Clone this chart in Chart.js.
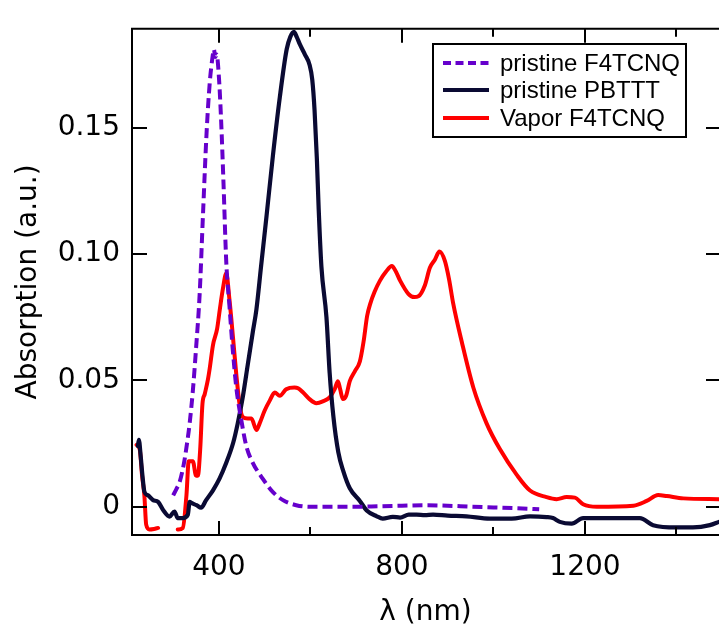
<!DOCTYPE html>
<html>
<head>
<meta charset="utf-8">
<script src="https://cdn.jsdelivr.net/npm/chart.js@4.4.1/dist/chart.umd.min.js"></script>
<style>
  body { margin: 0; background: #fff; }
  #wrap { width: 719px; height: 635px; }
</style>
</head>
<body>
<div id="wrap"><canvas id="absChart" width="719" height="635"></canvas></div>
<script>
const f4tcnqWl = [300, 307, 314, 320, 325, 331, 336, 343, 350, 358, 365, 373, 380, 386, 389, 392, 395, 400, 405, 410,
  416, 423, 430, 438, 449, 460, 474, 496, 518, 540, 569, 598, 650, 700, 750, 800, 850, 900, 950, 1000, 1050, 1100];
const f4tcnqAbs = [0.0045, 0.007, 0.0097, 0.014, 0.0187, 0.026, 0.033, 0.0459, 0.0627, 0.0846, 0.115, 0.148, 0.168, 0.178, 0.181, 0.178, 0.179, 0.17, 0.152, 0.128,
  0.097, 0.0795, 0.0627, 0.0472, 0.0342, 0.0239, 0.0174, 0.011, 0.0058, 0.0026, 0.0006, 0, 0, 0, 0.0002, 0.0004, 0.0006, 0.0004, 0, -0.0003, -0.0006, -0.001];

const pbtttWl = [223, 225, 229, 233, 237, 245, 256, 267, 278, 292, 303, 310, 321, 332, 336, 340, 351, 361, 372, 387,
  401, 416, 431, 441, 452, 463, 474, 482, 492, 504, 518, 533, 548, 556, 564, 570, 577, 588, 598, 604,
  609, 614, 618, 624, 635, 642, 650, 661, 672, 686, 708, 723, 745, 758, 780, 796, 815, 832, 850, 868,
  900, 941, 992, 1040, 1080, 1116, 1130, 1145, 1171, 1196, 1260, 1320, 1349, 1400, 1436, 1473, 1493];
const pbtttAbs = [0.024, 0.0265, 0.02, 0.012, 0.006, 0.0045, 0.0026, 0.0019, -0.0013, -0.0039, -0.0019, -0.0045, -0.0045, -0.0032, 0.0019, 0.0015, 0.0006, -0.0004, 0.0026, 0.0065,
  0.011, 0.0174, 0.0252, 0.0329, 0.0433, 0.0562, 0.0691, 0.0782, 0.095, 0.115, 0.139, 0.162, 0.181, 0.186, 0.188, 0.186, 0.183, 0.179, 0.175, 0.169,
  0.157, 0.138, 0.118, 0.095, 0.075, 0.053, 0.036, 0.0215, 0.014, 0.0073, 0.0023, -0.0015, -0.0038, -0.0047, -0.004, -0.0043, -0.0031, -0.0031, -0.0033, -0.0031,
  -0.0035, -0.0038, -0.0047, -0.0047, -0.0038, -0.0041, -0.0045, -0.006, -0.0067, -0.0045, -0.0045, -0.0045, -0.0073, -0.0082, -0.0082, -0.0073, -0.006];

// null = hueco en la curva de vapor
const vaporWl = [220, 227, 232, 237, 241, 248, 258, 267, 290, 310, 321, 329, 334, 343, 350, 354, 359, 364, 369, 376,
  380, 387, 396, 402, 409, 416, 423, 431, 438, 445, 452, 463, 471, 482, 489, 500, 511, 522, 533, 547,
  565, 573, 584, 598, 613, 627, 642, 653, 660, 665, 671, 678, 686, 697, 708, 716, 724, 731, 740, 752,
  765, 778, 787, 796, 814, 827, 836, 850, 861, 872, 882, 894, 903, 912, 931, 956, 985, 1014, 1051, 1080,
  1116, 1138, 1160, 1178, 1196, 1226, 1306, 1335, 1360, 1379, 1415, 1493];
const vaporAbs = [0.0245, 0.0226, 0.0123, 0.0045, -0.0071, -0.009, -0.0088, -0.0084, null, -0.009, -0.0084, 0.0045, 0.018, 0.018, 0.0123, 0.0123, 0.0226, 0.0407, 0.0446, 0.0504,
  0.0549, 0.064, 0.0704, 0.0782, 0.0866, 0.0924, 0.082, 0.0665, 0.0523, 0.0407, 0.0355, 0.0349, 0.0349, 0.0304, 0.033, 0.0381, 0.042, 0.0452, 0.0439, 0.0465,
  0.0472, 0.0469, 0.0452, 0.0426, 0.041, 0.0417, 0.0433, 0.0465, 0.0497, 0.0465, 0.0426, 0.0439, 0.0497, 0.0536, 0.0575, 0.0652, 0.0756, 0.0805, 0.085, 0.0895,
  0.093, 0.0953, 0.093, 0.0895, 0.0843, 0.083, 0.0833, 0.0876, 0.0946, 0.0978, 0.101, 0.0972, 0.09, 0.0805, 0.0651, 0.0472, 0.033, 0.0228, 0.0126, 0.0064,
  0.0038, 0.003, 0.0038, 0.0036, 0.001, 0, 0.0004, 0.0023, 0.0046, 0.0042, 0.0033, 0.003];

const seriesLabels = ['pristine F4TCNQ', 'pristine PBTTT', 'Vapor F4TCNQ'];
const xTickValues = [400, 600, 800, 1000, 1200, 1400];
const xLabelTicks = [400, 800, 1200];
const yTickValues = [0, 0.05, 0.10, 0.15];

const tickFont = { family: 'DejaVu Sans', size: 28 };

function toPoints(xs, ys) {
  return xs.map((x, i) => ({ x: x, y: ys[i] }));
}

// Marco, marcas hacia dentro y leyenda con recuadro
const framePlugin = {
  id: 'frame',
  afterDatasetsDraw(chart) {
    const ctx = chart.ctx;
    const a = chart.chartArea;
    const xs = chart.scales.x;
    const ys = chart.scales.y;
    ctx.save();
    ctx.strokeStyle = '#000';
    ctx.lineWidth = 2;
    ctx.beginPath();
    ctx.moveTo(a.right + 2, a.top);
    ctx.lineTo(a.left, a.top);
    ctx.lineTo(a.left, a.bottom);
    ctx.lineTo(a.right + 2, a.bottom);
    ctx.stroke();

    ctx.beginPath();
    xs.ticks.forEach(t => {
      const px = Math.round(xs.getPixelForValue(t.value));
      const len = xLabelTicks.includes(t.value) ? 14 : 8;
      ctx.moveTo(px, a.bottom);
      ctx.lineTo(px, a.bottom - len);
      ctx.moveTo(px, a.top);
      ctx.lineTo(px, a.top + len);
    });
    ys.ticks.forEach(t => {
      const py = Math.round(ys.getPixelForValue(t.value));
      ctx.moveTo(a.left, py);
      ctx.lineTo(a.left + 15, py);
      ctx.moveTo(a.right + 1, py);
      ctx.lineTo(a.right - 13, py);
    });
    ctx.stroke();

    // leyenda
    const box = { left: 433, top: 44, right: 686, bottom: 137 };
    const rows = [63, 90, 118];
    ctx.fillStyle = '#fff';
    ctx.fillRect(box.left, box.top, box.right - box.left, box.bottom - box.top);
    ctx.strokeRect(box.left, box.top, box.right - box.left, box.bottom - box.top);
    ctx.font = '24px "Liberation Sans", Arial, sans-serif';
    ctx.textBaseline = 'middle';
    chart.data.datasets.forEach((ds, i) => {
      ctx.strokeStyle = ds.borderColor;
      ctx.lineWidth = 4;
      ctx.lineCap = 'butt';
      ctx.setLineDash(ds.borderDash ? [8, 4.5] : []);
      ctx.beginPath();
      ctx.moveTo(443, rows[i]);
      ctx.lineTo(489, rows[i]);
      ctx.stroke();
      ctx.setLineDash([]);
      ctx.fillStyle = '#000';
      ctx.fillText(ds.label, 500, rows[i] + 1);
    });
    ctx.restore();
  }
};

new Chart(document.getElementById('absChart'), {
  type: 'line',
  data: {
    datasets: [
      {
        label: seriesLabels[0],
        data: toPoints(f4tcnqWl, f4tcnqAbs),
        borderColor: '#6600cc',
        borderDash: [10, 5],
        borderCapStyle: 'butt',
        borderWidth: 4
      },
      {
        label: seriesLabels[1],
        data: toPoints(pbtttWl, pbtttAbs),
        borderColor: '#0a0a33',
        borderWidth: 4.2
      },
      {
        label: seriesLabels[2],
        data: toPoints(vaporWl, vaporAbs),
        borderColor: '#ff0000',
        borderWidth: 4,
        spanGaps: false
      }
    ]
  },
  options: {
    responsive: false,
    animation: false,
    events: [],
    layout: { padding: { top: 14, right: 0, left: 0, bottom: 0 } },
    elements: {
      point: { radius: 0 },
      line: { cubicInterpolationMode: 'monotone', borderCapStyle: 'round', borderJoinStyle: 'round', fill: false }
    },
    plugins: {
      legend: { display: false },
      tooltip: { enabled: false }
    },
    scales: {
      x: {
        type: 'linear',
        min: 210,
        max: 1493,
        afterFit(scale) { scale.height = 100; },
        afterBuildTicks(scale) {
          scale.ticks = xTickValues.map(v => ({ value: v }));
        },
        grid: { display: false, drawTicks: false },
        border: { display: false },
        ticks: {
          autoSkip: false,
          maxRotation: 0,
          padding: 16,
          color: '#000',
          font: tickFont,
          callback: v => xLabelTicks.includes(v) ? String(v) : ''
        },
        title: {
          display: true,
          text: 'λ (nm)',
          color: '#000',
          font: tickFont,
          padding: { top: 0, bottom: 5 }
        }
      },
      y: {
        type: 'linear',
        min: -0.0112,
        max: 0.1892,
        afterFit(scale) { scale.width = 132; },
        afterBuildTicks(scale) {
          scale.ticks = yTickValues.map(v => ({ value: v }));
        },
        grid: { display: false, drawTicks: false },
        border: { display: false },
        ticks: {
          padding: 12,
          color: '#000',
          font: tickFont,
          callback: v => v === 0 ? '0' : v.toFixed(2)
        },
        title: {
          display: true,
          text: 'Absorption (a.u.)',
          color: '#000',
          font: tickFont,
          padding: { top: 12, bottom: 0 }
        }
      }
    }
  },
  plugins: [framePlugin]
});
</script>
</body>
</html>
